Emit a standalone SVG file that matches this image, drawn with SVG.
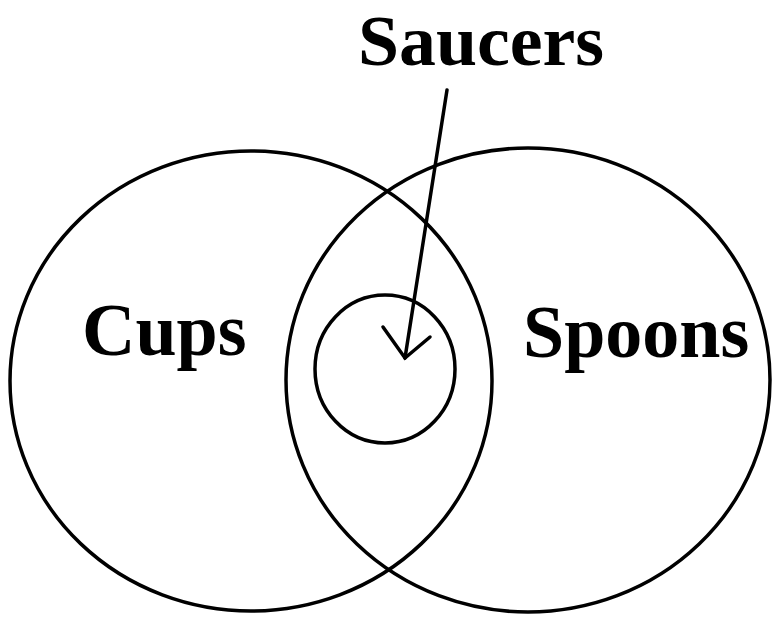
<svg xmlns="http://www.w3.org/2000/svg" width="772" height="620" viewBox="0 0 772 620">
<style>
.set{fill:none;stroke:#000;stroke-width:3.5}
.lbl{font-family:"Liberation Serif","Times New Roman",serif;font-weight:bold;font-size:74px;fill:#000}
.conn{fill:none;stroke:#000;stroke-width:3.5;stroke-linecap:round;stroke-linejoin:miter}
</style>
<rect width="772" height="620" fill="#fff"/>
<g id="cups">
<ellipse class="set" cx="251" cy="381" rx="241" ry="230"/>
<text class="lbl" x="82" y="355">Cups</text>
</g>
<g id="spoons">
<ellipse class="set" cx="528" cy="380" rx="242" ry="232"/>
<text class="lbl" x="523" y="357">Spoons</text>
</g>
<g id="saucers">
<ellipse class="set" cx="385" cy="369" rx="70" ry="74"/>
<text class="lbl" x="358" y="65" style="font-size:72px" textLength="246" lengthAdjust="spacingAndGlyphs">Saucers</text>
</g>
<g id="connectors">
<path class="conn" d="M447,90 L405,358"/>
<path class="conn" d="M383,327 L405,358 L430,337"/>
</g>
</svg>
